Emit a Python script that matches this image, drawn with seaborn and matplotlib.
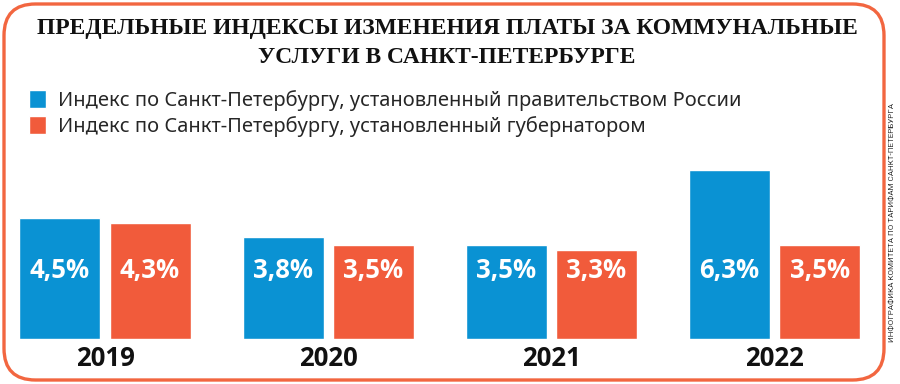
import numpy as np
import pandas as pd
import matplotlib
matplotlib.use("Agg")
import matplotlib.pyplot as plt
from matplotlib.patches import FancyBboxPatch
import seaborn as sns

sns.set_theme(style="white")
plt.rcParams["font.family"] = ["Open Sans", "DejaVu Sans"]

# ─────────────────────────────────────────
#  Data
# ─────────────────────────────────────────
years = ["2019", "2020", "2021", "2022"]
gov_index = [4.5, 3.8, 3.5, 6.3]        # set by the Russian government
governor_index = [4.3, 3.5, 3.3, 3.5]   # set by the governor
series_names = [
    "Индекс по Санкт-Петербургу, установленный правительством России",
    "Индекс по Санкт-Петербургу, установленный губернатором",
]
title = "ПРЕДЕЛЬНЫЕ ИНДЕКСЫ ИЗМЕНЕНИЯ ПЛАТЫ ЗА КОММУНАЛЬНЫЕ\nУСЛУГИ В САНКТ-ПЕТЕРБУРГЕ"
source = "ИНФОГРАФИКА КОМИТЕТА ПО ТАРИФАМ САНКТ-ПЕТЕРБУРГА"

BLUE = "#0a92d3"
ORANGE = "#f15b3b"

df = pd.DataFrame({
    "year": years * 2,
    "series": [series_names[0]] * 4 + [series_names[1]] * 4,
    "value": gov_index + governor_index,
})

W, H = 900, 384
fig = plt.figure(figsize=(W / 100, H / 100), dpi=100)
fig.patch.set_facecolor("white")

# plot area: baseline at y=339px, 26.9 px per percent
ax = fig.add_axes([10 / W, 45 / H, 870 / W, 175 / H])
sns.barplot(data=df, x="year", y="value", hue="series",
            palette=[BLUE, ORANGE], width=0.807, gap=0.1,
            saturation=1, ax=ax)
ax.set_ylim(0, 175 / 26.9)
ax.set_xlim(-0.4256, 3.472)
ax.set_xlabel("")
ax.set_ylabel("")
ax.set_yticks([])
for s in ax.spines.values():
    s.set_visible(False)
ax.tick_params(axis="x", length=0, pad=4)
for lab in ax.get_xticklabels():
    lab.set_fontsize(18.5)
    lab.set_fontweight("bold")
    lab.set_color("#111111")

# value labels inside bars
vals = gov_index + governor_index
for p, v in zip(ax.patches, vals):
    ax.text(p.get_x() + p.get_width() / 2, 2.56, f"{v:.1f}%".replace(".", ","),
            ha="center", va="center", color="white", fontsize=18.5, fontweight="bold")

# legend
handles, labels = ax.get_legend_handles_labels()
ax.get_legend().remove()
fig.legend(handles, labels, loc="upper left", bbox_to_anchor=(21 / W, 1 - 82 / H),
           frameon=False, handlelength=0.85, handleheight=0.95,
           handletextpad=0.6, labelspacing=0.25, borderaxespad=0,
           prop={"family": "Noto Sans", "size": 14.45})

# title
fig.text(447 / W, 1 - 43 / H, title, ha="center", va="center", fontsize=16.9,
         fontweight="bold", family="Liberation Serif", color="#111111", linespacing=1.5)

# source note on the right
fig.text(893 / W, 1 - 222 / H, source, rotation=90, ha="center", va="center",
         fontsize=5.8, color="#333333", family="Roboto")

# rounded orange frame
frame = FancyBboxPatch((4 / W, 4 / H), 880 / W, 376 / H,
                       boxstyle="round,pad=0,rounding_size=0.035",
                       transform=fig.transFigure, fill=False,
                       edgecolor="#f26640", linewidth=2.4, mutation_aspect=W / H)
fig.patches.append(frame)

fig.savefig("out.png", dpi=100)
